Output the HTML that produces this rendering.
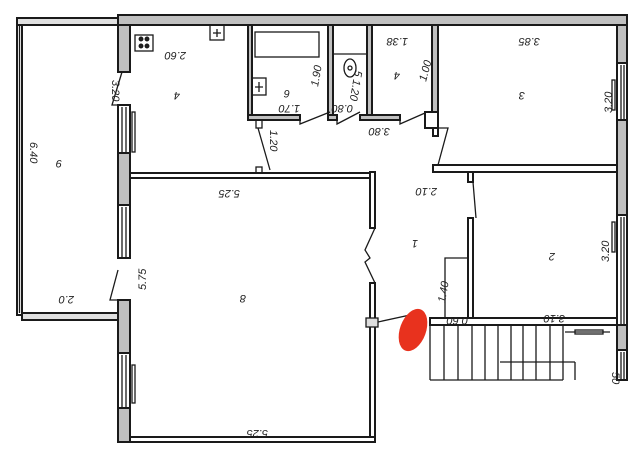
<!DOCTYPE html>
<html><head><meta charset="utf-8"><style>
html,body{margin:0;padding:0;background:#fff}
svg{display:block}
text{font-family:"Liberation Sans",sans-serif;font-style:italic;font-size:11px;fill:#222}
</style></head><body>
<svg width="640" height="457" viewBox="0 0 640 457" xmlns="http://www.w3.org/2000/svg">
<rect width="640" height="457" fill="#fff"/>
<g fill="#c0c0c0" stroke="#1a1a1a" stroke-width="2">
<rect x="17" y="18" width="101" height="7" fill="#e0e0e0"/>
<rect x="17" y="25" width="5" height="290" fill="#fff"/>
<rect x="22" y="313" width="96" height="7" fill="#e0e0e0"/>
<rect x="118" y="15" width="509" height="10"/>
<rect x="118" y="25" width="12" height="47"/>
<rect x="118" y="105" width="12" height="48" fill="#fff"/>
<rect x="118" y="153" width="12" height="52"/>
<rect x="118" y="205" width="12" height="53" fill="#fff"/>
<rect x="118" y="300" width="12" height="53"/>
<rect x="118" y="353" width="12" height="55" fill="#fff"/>
<rect x="118" y="408" width="12" height="34"/>
<rect x="617" y="25" width="10" height="38"/>
<rect x="617" y="63" width="10" height="57" fill="#fff"/>
<rect x="617" y="120" width="10" height="95"/>
<rect x="617" y="215" width="10" height="110" fill="#fff"/>
<rect x="617" y="325" width="10" height="25"/>
<rect x="617" y="350" width="10" height="30" fill="#fff"/>
</g>
<g stroke="#1a1a1a" stroke-width="1.3" fill="none">
<line x1="122" y1="107" x2="122" y2="152"/><line x1="126" y1="107" x2="126" y2="152"/>
<line x1="122" y1="207" x2="122" y2="257"/><line x1="126" y1="207" x2="126" y2="257"/>
<line x1="122" y1="355" x2="122" y2="407"/><line x1="126" y1="355" x2="126" y2="407"/>
<line x1="621" y1="65" x2="621" y2="119"/><line x1="624" y1="65" x2="624" y2="119"/>
<line x1="621" y1="217" x2="621" y2="324"/><line x1="624" y1="217" x2="624" y2="324"/>
<line x1="621" y1="352" x2="621" y2="379"/><line x1="624" y1="352" x2="624" y2="379"/>
<line x1="19.5" y1="25" x2="19.5" y2="313"/>
<rect x="132" y="112" width="3" height="40"/><rect x="132" y="365" width="3" height="38"/>
<rect x="612" y="80" width="3" height="30"/><rect x="612" y="222" width="3" height="30"/>
<polyline points="122,72 112,105 122,105"/>
<polyline points="118,270 110,300 122,300"/>
</g>
<g fill="#fff" stroke="#1a1a1a" stroke-width="2">
<rect x="130" y="173" width="243" height="5"/>
<rect x="370" y="172" width="5" height="56"/>
<rect x="370" y="283" width="5" height="159"/>
<rect x="130" y="437" width="245" height="5"/>
<rect x="248" y="25" width="4" height="93" fill="#c0c0c0"/>
<rect x="328" y="25" width="5" height="93" fill="#c0c0c0"/>
<rect x="367" y="25" width="5" height="93" fill="#c0c0c0"/>
<rect x="432" y="25" width="6" height="103" fill="#c0c0c0"/>
<rect x="248" y="115" width="52" height="5" fill="#c0c0c0"/>
<rect x="328" y="115" width="9" height="5" fill="#c0c0c0"/>
<rect x="360" y="115" width="40" height="5" fill="#c0c0c0"/>
<rect x="425" y="112" width="13" height="16"/>
<rect x="433" y="165" width="184" height="7"/>
<rect x="433" y="128" width="5" height="8"/>
<rect x="468" y="172" width="5" height="10"/>
<rect x="468" y="218" width="5" height="102"/>
<rect x="430" y="318" width="187" height="7"/>
</g>
<g stroke="#1a1a1a" stroke-width="1.3" fill="none">
<polyline points="300,118 300,124 330,112"/>
<polyline points="337,118 337,124 360,112"/>
<polyline points="400,118 400,124 425,113"/>
<polyline points="438,128 448,128 438,165"/>
<polyline points="258,128 270,170"/>
<rect x="256" y="120" width="6" height="8"/><rect x="256" y="167" width="6" height="6"/>
<polyline points="473,182 476,218"/>
<polyline points="375,228 365,250 370,258 365,262 375,283"/>
<rect x="366" y="318" width="12" height="9" fill="#ddd"/>
<line x1="378" y1="322" x2="410" y2="315"/>
<rect x="255" y="32" width="64" height="25"/>
<rect x="135" y="35" width="18" height="16"/>
<circle cx="141" cy="39" r="1.8" fill="#222"/><circle cx="147" cy="39" r="1.8" fill="#222"/>
<circle cx="141" cy="46" r="1.8" fill="#222"/><circle cx="147" cy="46" r="1.8" fill="#222"/>
<rect x="210" y="25" width="14" height="15"/><path d="M217 29v8M213 33h8"/>
<rect x="252" y="78" width="14" height="17"/><path d="M259 82v10M255 87h8"/>
<line x1="333" y1="54" x2="367" y2="54"/>
<ellipse cx="350" cy="68" rx="6" ry="9"/><circle cx="350" cy="68" r="2"/>
<polyline points="445,318 445,258 468,258"/>
<line x1="430" y1="325" x2="430" y2="380"/>
<line x1="430" y1="380" x2="563" y2="380"/>
<line x1="500" y1="362" x2="575" y2="362"/><line x1="575" y1="362" x2="575" y2="380"/>
<line x1="565" y1="332" x2="610" y2="332"/>
<rect x="575" y="330" width="28" height="4"/>
</g>
<g stroke="#1a1a1a" stroke-width="1.3">
<line x1="444" y1="325" x2="444" y2="380"/><line x1="458" y1="325" x2="458" y2="380"/>
<line x1="472" y1="325" x2="472" y2="380"/><line x1="485" y1="325" x2="485" y2="380"/>
<line x1="498" y1="325" x2="498" y2="380"/><line x1="511" y1="325" x2="511" y2="380"/>
<line x1="523" y1="325" x2="523" y2="380"/><line x1="536" y1="325" x2="536" y2="380"/>
<line x1="550" y1="325" x2="550" y2="380"/><line x1="563" y1="325" x2="563" y2="380"/>
</g>
<ellipse cx="413" cy="330" rx="13" ry="22" transform="rotate(20 413 330)" fill="#e8321e"/>
<g>
<text transform="translate(186,52) rotate(180)">2.60</text>
<text transform="translate(180,92) rotate(180)" font-size="14">4</text>
<text transform="translate(112,80) rotate(90)">3.20</text>
<text transform="translate(270,130) rotate(90)">1.20</text>
<text transform="translate(240,190) rotate(180)">5.25</text>
<text transform="translate(290,90) rotate(180)" font-size="13">6</text>
<text transform="translate(300,105) rotate(180)">1.70</text>
<text transform="translate(318,87) rotate(-80)">1.90</text>
<text transform="translate(353,105) rotate(180)">0.80</text>
<text transform="translate(355,70) rotate(100)">5 1.20</text>
<text transform="translate(408,38) rotate(180)">1.38</text>
<text transform="translate(400,72) rotate(180)" font-size="12">4</text>
<text transform="translate(426,82) rotate(-75)">1.00</text>
<text transform="translate(390,128) rotate(180)">3.80</text>
<text transform="translate(540,38) rotate(180)">3.85</text>
<text transform="translate(525,92) rotate(180)" font-size="13">3</text>
<text transform="translate(612,113) rotate(-90)">3.20</text>
<text transform="translate(437,188) rotate(180)">2.10</text>
<text transform="translate(418,240) rotate(180)" font-size="13">1</text>
<text transform="translate(555,253) rotate(180)" font-size="13">2</text>
<text transform="translate(609,262) rotate(-90)">3.20</text>
<text transform="translate(445,303) rotate(-80)">1.40</text>
<text transform="translate(468,317) rotate(180)">0.60</text>
<text transform="translate(565,315) rotate(180)">3.10</text>
<text transform="translate(612,372) rotate(90)">50</text>
<text transform="translate(30,142) rotate(90)">6.40</text>
<text transform="translate(62,160) rotate(180)" font-size="13">9</text>
<text transform="translate(74,296) rotate(180)">2.0</text>
<text transform="translate(146,290) rotate(-90)">5.75</text>
<text transform="translate(246,295) rotate(180)" font-size="14">8</text>
<text transform="translate(268,430) rotate(180)">5.25</text>
</g>
</svg>
</body></html>
